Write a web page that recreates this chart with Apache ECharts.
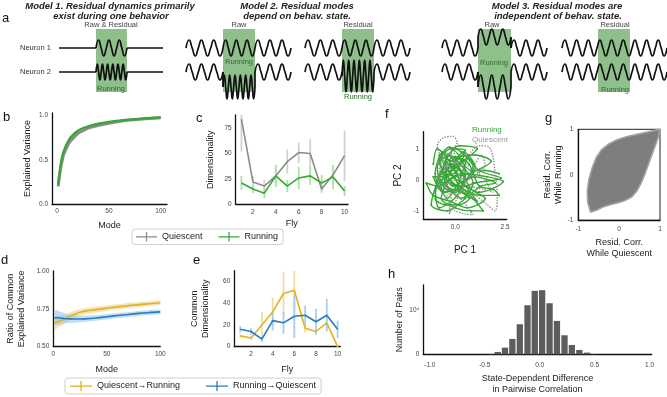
<!DOCTYPE html>
<html>
<head>
<meta charset="utf-8">
<script src="https://cdn.jsdelivr.net/npm/echarts@6.0.0/dist/echarts.min.js"></script>
<style>
  html, body { margin: 0; padding: 0; background: #fff; }
  #fig { width: 667px; height: 397px; }
</style>
</head>
<body>
<div id="fig"></div>
<script>
// ---------- data ----------
// b: cumulative explained variance vs mode
const modesB = [1, 2, 3, 4, 5, 6, 8, 10, 12, 15, 20, 25, 30, 40, 50, 60, 70, 80, 90, 100];
const varRunning = [0.22, 0.33, 0.42, 0.49, 0.55, 0.59, 0.65, 0.70, 0.74, 0.78, 0.83, 0.86, 0.88, 0.91, 0.93, 0.945, 0.955, 0.965, 0.975, 0.98];
const varQuiescent = [0.20, 0.30, 0.38, 0.45, 0.50, 0.55, 0.61, 0.66, 0.70, 0.74, 0.80, 0.83, 0.86, 0.89, 0.915, 0.935, 0.95, 0.96, 0.968, 0.975];

// c: dimensionality per fly
const flies = [1, 2, 3, 4, 5, 6, 7, 8, 9, 10];
const dimQuiescent = [84, 22, 18, 28, 42, 51, 50, 15, 29, 48];
const dimQuiescentErr = [32, 6, 6, 7, 12, 10, 14, 4, 6, 25];
const dimRunning = [21, 15, 11, 28, 18, 26, 28, 21, 27, 13];
const dimRunningErr = [7, 4, 5, 11, 6, 11, 9, 8, 12, 5];

// d: ratio of common explained variance
const modesD = [1, 3, 5, 8, 10, 12, 15, 20, 25, 30, 40, 50, 60, 70, 80, 90, 100];
const ratioQR = [0.655, 0.662, 0.668, 0.675, 0.68, 0.69, 0.70, 0.715, 0.727, 0.735, 0.745, 0.755, 0.763, 0.771, 0.778, 0.784, 0.79];
const ratioQRErr = [0.05, 0.045, 0.04, 0.035, 0.03, 0.028, 0.026, 0.024, 0.022, 0.02, 0.019, 0.018, 0.017, 0.017, 0.016, 0.016, 0.016];
const ratioRQ = [0.69, 0.692, 0.69, 0.688, 0.686, 0.685, 0.684, 0.683, 0.683, 0.684, 0.69, 0.698, 0.706, 0.713, 0.72, 0.726, 0.73];
const ratioRQErr = [0.05, 0.048, 0.045, 0.04, 0.035, 0.03, 0.028, 0.025, 0.022, 0.02, 0.019, 0.018, 0.017, 0.017, 0.016, 0.016, 0.016];

// e: common dimensionality per fly
const commonQR = [10, 8, 20, 32, 49, 52, 17, 14, 22, 0];
const commonQRErr = [2, 2, 12, 13, 20, 19, 4, 3, 5, 2];
const commonRQ = [16, 14, 7, 24, 22, 28, 29, 23, 29, 16];
const commonRQErr = [3, 3, 3, 9, 10, 20, 9, 12, 15, 8];

// f: PC trajectories
const pcRunning = [[-0.2,0.3],[0.4,0.8],[0.9,0.5],[0.2,-0.2],[-0.8,0.6],[-0.3,1.05],[0.3,0.9],[1.2,0.3],[2.3,0.05],[1.0,-0.1],
  [-0.5,-0.4],[-1.0,0.2],[-0.6,0.9],[0.1,0.5],[0.8,-0.3],[1.5,-0.6],[0.6,-0.9],[-0.2,-0.7],[-1.1,-0.5],[-1.45,-0.1],
  [-0.9,-0.2],[0.0,0.1],[0.7,0.2],[1.8,0.6],[1.0,0.8],[0.0,0.7],[-0.7,0.2],[-1.2,-0.8],[-0.4,-1.0],[0.5,-0.6],
  [1.3,-0.2],[2.0,-0.1],[0.9,0.1],[-0.1,-0.2],[-0.6,0.4],[-0.1,0.95],[0.5,0.3],[0.1,-0.5],[-0.8,-0.9],[-1.0,-0.3],
  [-0.3,0.2],[0.4,0.6],[1.1,1.0],[0.2,1.1],[-0.5,0.5],[-0.2,-0.1],[0.6,-0.4],[1.4,-1.0],[0.8,-1.0],[0.0,-0.9],
  [-0.7,-0.6],[-0.3,0.0],[0.3,0.2],[1.6,0.1],[2.4,-0.05],[1.2,-0.4],[0.3,-0.05],[-0.4,0.7],[-0.9,1.0],[-1.1,0.5]];
const pcRunningB = [[-0.5,0.6],[0.1,0.2],[-0.7,-0.1],[-0.2,0.5],[0.5,0.1],[0.0,-0.4],[-0.6,-0.2],[-0.1,0.4],[0.6,0.7],[0.2,0.0],
  [-0.4,-0.6],[-0.9,0.4],[-0.3,0.8],[0.4,0.4],[0.9,-0.1],[0.3,-0.6],[-0.3,-0.3],[-0.8,0.1],[-0.4,0.3],[0.2,0.7],
  [0.7,0.5],[1.2,-0.2],[1.9,-0.3],[2.2,-0.5],[1.3,-0.5],[0.4,-0.3],[-0.2,0.2],[-0.7,0.7],[-0.2,1.0],[0.5,0.95],
  [0.1,0.3],[-0.5,0.1],[-1.1,0.1],[-0.6,-0.4],[0.1,-0.3],[0.7,-0.6],[0.2,-0.8],[-0.5,-0.8],[-1.0,-0.6],[-0.7,0.3],
  [0.0,0.4],[0.6,0.0],[1.0,0.4],[0.4,0.9],[-0.1,0.6],[-0.8,0.8],[-0.4,-0.2],[0.3,-0.4],[1.1,-0.7],[0.5,-0.2],
  [-0.1,0.1],[-0.5,0.45],[0.0,0.75],[0.8,0.3],[1.5,0.3],[2.2,0.2]];
const pcQuiescent = [[-0.3,0.2],[-0.6,0.6],[-0.9,1.1],[-0.6,1.35],[-0.1,1.4],[0.1,1.2],[-0.2,0.9],[0.2,0.4],[0.8,0.9],[1.2,1.1],
  [1.7,1.05],[1.9,0.7],[2.0,0.2],[2.1,-0.3],[2.1,-0.7],[2.0,-1.0],[1.6,-0.8],[1.0,-0.5],[0.3,-0.3],[-0.5,-0.6],
  [-0.3,-0.9],[0.0,-1.0],[0.5,-1.1],[0.9,-1.12],[0.4,-0.7],[-0.2,-0.3],[-0.8,0.0],[-0.4,0.4],[0.3,0.1],[0.8,-0.2],
  [1.4,-0.3],[1.9,-0.4],[1.2,0.2],[0.5,0.5],[-0.1,0.6],[-0.6,0.2],[-0.2,-0.5],[-0.3,-1.1],[0.1,-0.6],[0.6,0.0],
  [1.0,0.5],[1.3,0.8],[1.5,0.5],[0.9,0.1],[0.0,0.0],[-0.9,-0.3],[-0.6,0.8],[0.0,0.85]];

// g: outline of the cloud of pair correlations (quiescent, running), walked clockwise
const corrOutline = [[-0.7,-0.82],[-0.77,-0.6],[-0.78,-0.35],[-0.74,-0.1],[-0.66,0.15],[-0.56,0.38],[-0.42,0.56],[-0.25,0.68],
  [-0.05,0.77],[0.2,0.84],[0.5,0.9],[0.8,0.96],[1,1],[0.97,0.86],[0.9,0.68],[0.81,0.46],[0.72,0.24],[0.64,0.04],
  [0.54,-0.18],[0.43,-0.36],[0.3,-0.49],[0.13,-0.57],[-0.05,-0.62],[-0.22,-0.66],[-0.4,-0.71],[-0.56,-0.78]];

// h: histogram of state-dependent correlation difference
const histCenters = [-0.452, -0.382, -0.316, -0.249, -0.181, -0.111, -0.045, 0.022, 0.09, 0.157, 0.226, 0.293, 0.361, 0.431, 0.497];
const histCounts = [80, 530, 1500, 3460, 6770, 11050, 14290, 14440, 11500, 7520, 4290, 2100, 980, 380, 60];

// a: schematic traces, segments [x0, x1, cycles, baseline, amplitude]
const schematic = [
  [[59, 96, 0, 48, 0], [96, 127, 3, 48, 8], [127, 163, 0, 48, 0]],
  [[59, 96, 0, 72, 0], [96, 127, 6, 72, 8], [127, 163, 0, 72, 0]],
  [[186, 223, 3, 48, 8], [223, 255, 3, 48, 8], [255, 291, 3, 48, 8]],
  [[186, 223, 3, 72, 8], [223, 255, 6, 87, 12], [255, 291, 3, 72, 8]],
  [[305, 342, 3, 48, 8], [342, 374, 3, 48, 8], [374, 410, 3, 48, 8]],
  [[305, 342, 3, 72, 8], [342, 374, 6, 76, 16], [374, 410, 3, 72, 8]],
  [[442, 478, 3, 48, 8], [478, 511, 3, 37, 8], [511, 547, 3, 48, 8]],
  [[442, 478, 3, 72, 8], [478, 511, 3, 87, 12], [511, 547, 3, 72, 8]],
  [[562, 667, 9, 48, 8]],
  [[562, 667, 9, 72, 8]]
];
const runBoxes = [[96, 127], [223, 255], [342, 374], [478, 511], [598, 630]];

// ---------- style ----------
const FONT = "'Liberation Sans', Arial, sans-serif";
const GREEN = '#35a833', GREY = '#8a8a8a', GOLD = '#e4b21f', BLUE = '#2b7bbd';
const crossIcon = 'path://M0,4.4h22v1.3H0z M10.35,0h1.3v10h-1.3z';

const chart = echarts.init(document.getElementById('fig'));

function valAxis(gridIndex, min, max, ticks, fmt, name, nameGap, extra) {
  return Object.assign({
    type: 'value', gridIndex: gridIndex, min: min, max: max,
    axisLine: { show: true, onZero: false, lineStyle: { color: '#111', width: 1.3 } },
    axisTick: { show: false },
    splitLine: { show: false },
    axisLabel: { customValues: ticks, formatter: fmt, fontSize: 6.5, color: '#444', margin: 4, fontFamily: FONT },
    name: name, nameLocation: 'middle', nameGap: nameGap,
    nameTextStyle: { fontSize: 9, color: '#222', fontFamily: FONT, lineHeight: 11 }
  }, extra || {});
}
function hidden(gridIndex, min, max, inverse) {
  return { type: 'value', gridIndex: gridIndex, min: min, max: max, inverse: !!inverse, show: false };
}

const fixed1 = v => v.toFixed(1);
const fixed2 = v => v.toFixed(2);
const plain = v => String(v);

function errorBars(axis, xs, mid, err, color, width) {
  return {
    type: 'custom', xAxisIndex: axis, yAxisIndex: axis, silent: true, clip: true, z: 1,
    data: xs.map((x, i) => [x, mid[i] - err[i], mid[i] + err[i]]),
    renderItem: function (params, api) {
      const lo = api.coord([api.value(0), api.value(1)]);
      const hi = api.coord([api.value(0), api.value(2)]);
      return { type: 'line', shape: { x1: lo[0], y1: lo[1], x2: hi[0], y2: hi[1] }, style: { stroke: color, lineWidth: width } };
    }
  };
}
function band(axis, xs, mid, err, color) {
  return {
    type: 'custom', xAxisIndex: axis, yAxisIndex: axis, silent: true, clip: true, z: 1,
    data: [0],
    renderItem: function (params, api) {
      const up = xs.map((x, i) => api.coord([x, mid[i] + err[i]]));
      const dn = xs.map((x, i) => api.coord([x, mid[i] - err[i]])).reverse();
      return { type: 'polygon', shape: { points: up.concat(dn) }, style: { fill: color } };
    }
  };
}
function line(axis, name, xs, ys, color, width, extra) {
  return Object.assign({
    type: 'line', name: name, xAxisIndex: axis, yAxisIndex: axis, color: color,
    data: xs.map((x, i) => [x, ys[i]]), showSymbol: false, symbol: 'none',
    lineStyle: { color: color, width: width }, z: 3
  }, extra || {});
}
function trajectory(data, color, width, dotted) {
  return {
    type: 'line', xAxisIndex: 5, yAxisIndex: 5, data: data, smooth: 0.3, silent: true,
    symbol: dotted ? 'none' : 'circle', symbolSize: 2, showSymbol: !dotted, itemStyle: { color: color },
    lineStyle: { color: color, width: width, type: dotted ? 'dotted' : 'solid' }, z: dotted ? 3 : 2
  };
}

// schematic wave segments
const waveSeries = [];
schematic.forEach(trace => {
  trace.forEach((seg, si) => {
    const [x0, x1, cyc, base, amp] = seg;
    const pts = [];
    if (cyc === 0) {
      pts.push([x0, base], [x1, base]);
    } else {
      const n = cyc * 4, shape = [0, -1, 0, 1];
      for (let k = 0; k <= n; k++) pts.push([x0 + k * (x1 - x0) / n, base + amp * shape[k % 4]]);
    }
    waveSeries.push({ type: 'line', xAxisIndex: 0, yAxisIndex: 0, data: pts, smooth: cyc ? 0.55 : false,
      symbol: 'none', silent: true, lineStyle: { color: '#111', width: 1.7 }, z: 3 });
    const next = trace[si + 1];
    if (next && next[3] !== base) {
      waveSeries.push({ type: 'line', xAxisIndex: 0, yAxisIndex: 0, data: [[x1, base], [x1, next[3]]],
        symbol: 'none', silent: true, lineStyle: { color: '#111', width: 1.7 }, z: 3 });
    }
  });
});

// ---------- text ----------
function txt(text, x, y, size, opts) {
  opts = opts || {};
  return { type: 'text', x: x, y: y, rotation: opts.rot || 0, z: 10,
    style: { text: text, fill: opts.color || '#222', align: opts.align || 'center', verticalAlign: 'middle',
      font: (opts.weight || '') + ' ' + size + 'px ' + FONT } };
}
const graphics = [
  txt('a', 2, 18, 13, { align: 'left', color: '#111' }),
  txt('b', 3, 117, 13, { align: 'left', color: '#111' }),
  txt('c', 196, 118, 13, { align: 'left', color: '#111' }),
  txt('d', 1, 260, 13, { align: 'left', color: '#111' }),
  txt('e', 193, 260, 13, { align: 'left', color: '#111' }),
  txt('f', 385, 114, 13, { align: 'left', color: '#111' }),
  txt('g', 545, 118, 13, { align: 'left', color: '#111' }),
  txt('h', 388, 274, 13, { align: 'left', color: '#111' }),
  txt('Model 1. Residual dynamics primarily', 110, 6.5, 9.5, { weight: 'italic bold' }),
  txt('exist during one behavior', 111, 16, 9.5, { weight: 'italic bold' }),
  txt('Model 2. Residual modes', 297, 6.5, 9.5, { weight: 'italic bold' }),
  txt('depend on behav. state.', 297, 16, 9.5, { weight: 'italic bold' }),
  txt('Model 3. Residual modes are', 557, 6.5, 9.5, { weight: 'italic bold' }),
  txt('independent of behav. state.', 558, 16, 9.5, { weight: 'italic bold' }),
  txt('Raw & Residual', 111, 24.5, 7.5, { color: '#444' }),
  txt('Raw', 239, 24.5, 7.5, { color: '#444' }),
  txt('Residual', 358, 24.5, 7.5, { color: '#444' }),
  txt('Raw', 492, 24.5, 7.5, { color: '#444' }),
  txt('Residual', 615, 24.5, 7.5, { color: '#444' }),
  txt('Neuron 1', 20, 48, 7.5, { align: 'left', color: '#333' }),
  txt('Neuron 2', 20, 72, 7.5, { align: 'left', color: '#333' }),
  txt('Running', 111, 89, 7.5, { color: '#2d6a2d' }),
  txt('Running', 239, 62, 7.5, { color: '#2d6a2d' }),
  txt('Running', 358, 96.5, 7.5, { color: '#2d6a2d' }),
  txt('Running', 494, 63, 7.5, { color: '#2d6a2d' }),
  txt('Running', 615, 89.5, 7.5, { color: '#2d6a2d' }),
  txt('Running', 472, 130, 8, { align: 'left', color: GREEN }),
  txt('Quiescent', 472, 140, 8, { align: 'left', color: '#999' })
];

// ---------- option ----------
const option = {
  animation: false,
  backgroundColor: '#fff',
  textStyle: { fontFamily: FONT },
  grid: [
    { left: 0, top: 0, width: 667, height: 100 },
    { left: 52, top: 113, width: 115, height: 91 },
    { left: 235.7, top: 115, width: 112.3, height: 89.3 },
    { left: 53.3, top: 271, width: 107, height: 75.7 },
    { left: 234.3, top: 270.7, width: 106, height: 76 },
    { left: 423.3, top: 131.7, width: 83.4, height: 87.6 },
    { left: 578.3, top: 129.3, width: 81.7, height: 91, show: true, borderColor: '#222', borderWidth: 1 },
    { left: 423.3, top: 285, width: 228.4, height: 69.3 }
  ],
  xAxis: [
    hidden(0, 0, 667),
    valAxis(1, -5, 106, [0, 50, 100], plain, 'Mode', 16.5),
    valAxis(2, 0.5, 10.3, [2, 4, 6, 8, 10], plain, 'Fly', 14),
    valAxis(3, 0, 100, [0, 50, 100], plain, 'Mode', 17),
    valAxis(4, 0.45, 10.25, [2, 4, 6, 8, 10], plain, 'Fly', 17),
    valAxis(5, -1.6, 2.58, [0, 2.5], fixed1, 'PC 1', 25.5, { nameTextStyle: { fontSize: 10, color: '#222', fontFamily: FONT } }),
    valAxis(6, -1, 1, [-1, 0, 1], plain, 'Resid. Corr.\nWhile Quiescent', 16.5, { axisLabel: { customValues: [-1, 0, 1], fontSize: 6.5, color: '#444', margin: 5, fontFamily: FONT } }),
    valAxis(7, -1.06, 1.02, [-1, -0.5, 0, 0.5, 1], fixed1, 'State-Dependent Difference\nin Pairwise Correlation', 18.5, { axisLabel: { customValues: [-1, -0.5, 0, 0.5, 1], formatter: fixed1, fontSize: 6.5, color: '#444', margin: 7, fontFamily: FONT } })
  ],
  yAxis: [
    hidden(0, 0, 100, true),
    valAxis(1, 0, 1.03, [0, 0.5, 1], fixed1, 'Explained Variance', 18.5),
    valAxis(2, 0, 88, [0, 25, 50, 75], plain, 'Dimensionality', 19.5),
    valAxis(3, 0.5, 1.0, [0.5, 0.75, 1], fixed2, 'Ratio of Common\nExplained Variance', 26),
    valAxis(4, 0, 70, [0, 20, 40, 60], plain, 'Common\nDimensionality', 23.5),
    valAxis(5, -1.27, 1.55, [-1, 0, 1], plain, 'PC 2', 20, { nameTextStyle: { fontSize: 10, color: '#222', fontFamily: FONT } }),
    valAxis(6, -1, 1, [-1, 0, 1], plain, 'Resid. Corr.\nWhile Running', 9.5, { axisLabel: { customValues: [-1, 0, 1], fontSize: 6.5, color: '#444', margin: 5, fontFamily: FONT } }),
    valAxis(7, 0, 15600, [0, 10000], v => (v === 0 ? '0' : '10⁴'), 'Number of Pairs', 17)
  ],
  legend: [
    {
      left: 132, top: 229, orient: 'horizontal', data: ['Quiescent', 'Running'], icon: crossIcon,
      itemWidth: 21, itemHeight: 10, itemGap: 16, padding: [3, 5, 3, 4],
      borderColor: '#cfcfcf', borderWidth: 1, borderRadius: 3, selectedMode: false,
      textStyle: { fontSize: 9, color: '#222', fontFamily: FONT }
    },
    {
      left: 65, top: 378, orient: 'horizontal', data: ['Quiescent→Running', 'Running→Quiescent'], icon: crossIcon,
      itemWidth: 22, itemHeight: 10, itemGap: 26, padding: [3, 5, 3, 5],
      borderColor: '#cfcfcf', borderWidth: 1, borderRadius: 3, selectedMode: false,
      textStyle: { fontSize: 9, color: '#222', fontFamily: FONT }
    }
  ],
  graphic: graphics,
  series: [
    // a: green running boxes
    {
      type: 'custom', xAxisIndex: 0, yAxisIndex: 0, silent: true, z: 1,
      data: runBoxes,
      renderItem: function (params, api) {
        const p0 = api.coord([api.value(0), 29]);
        const p1 = api.coord([api.value(1), 92]);
        return { type: 'rect', shape: { x: p0[0], y: p0[1], width: p1[0] - p0[0], height: p1[1] - p0[1] }, style: { fill: '#8fc08b' } };
      }
    },
    ...waveSeries,

    // b
    line(1, 'Quiescent', modesB, varQuiescent, GREY, 3, { smooth: 0.3 }),
    line(1, 'Running', modesB, varRunning, GREEN, 2.2, { smooth: 0.3 }),

    // c
    errorBars(2, flies, dimQuiescent, dimQuiescentErr, '#d2d2d2', 1.8),
    errorBars(2, flies, dimRunning, dimRunningErr, '#a8e3a2', 1.8),
    line(2, 'Quiescent', flies, dimQuiescent, GREY, 1.6),
    line(2, 'Running', flies, dimRunning, GREEN, 1.6),

    // d
    band(3, modesD, ratioQR, ratioQRErr, 'rgba(236,210,140,0.6)'),
    band(3, modesD, ratioRQ, ratioRQErr, 'rgba(140,196,240,0.55)'),
    line(3, 'Quiescent→Running', modesD, ratioQR, GOLD, 1.6, { smooth: 0.3 }),
    line(3, 'Running→Quiescent', modesD, ratioRQ, BLUE, 1.6, { smooth: 0.3 }),

    // e
    errorBars(4, flies, commonQR, commonQRErr, '#efdca6', 1.8),
    errorBars(4, flies, commonRQ, commonRQErr, '#a3d0f3', 1.8),
    line(4, 'Quiescent→Running', flies, commonQR, GOLD, 1.6),
    line(4, 'Running→Quiescent', flies, commonRQ, BLUE, 1.6),

    // f
    trajectory(pcRunning, GREEN, 1.4, false),
    trajectory(pcRunningB, GREEN, 1.4, false),
    trajectory(pcQuiescent, '#8c8c8c', 1.4, true),

    // g
    {
      type: 'custom', xAxisIndex: 6, yAxisIndex: 6, silent: true, z: 2, data: [0],
      renderItem: function (params, api) {
        return { type: 'polygon', shape: { points: corrOutline.map(p => api.coord(p)) },
          style: { fill: '#7e7e7e', stroke: '#a2a2a2', lineWidth: 1.6, lineJoin: 'round' } };
      }
    },

    // h
    {
      type: 'bar', xAxisIndex: 7, yAxisIndex: 7, silent: true, barWidth: 6.3,
      data: histCenters.map((c, i) => [c, histCounts[i]]),
      itemStyle: { color: '#5d5d5d' }
    }
  ]
};
chart.setOption(option);
</script>
</body>
</html>
